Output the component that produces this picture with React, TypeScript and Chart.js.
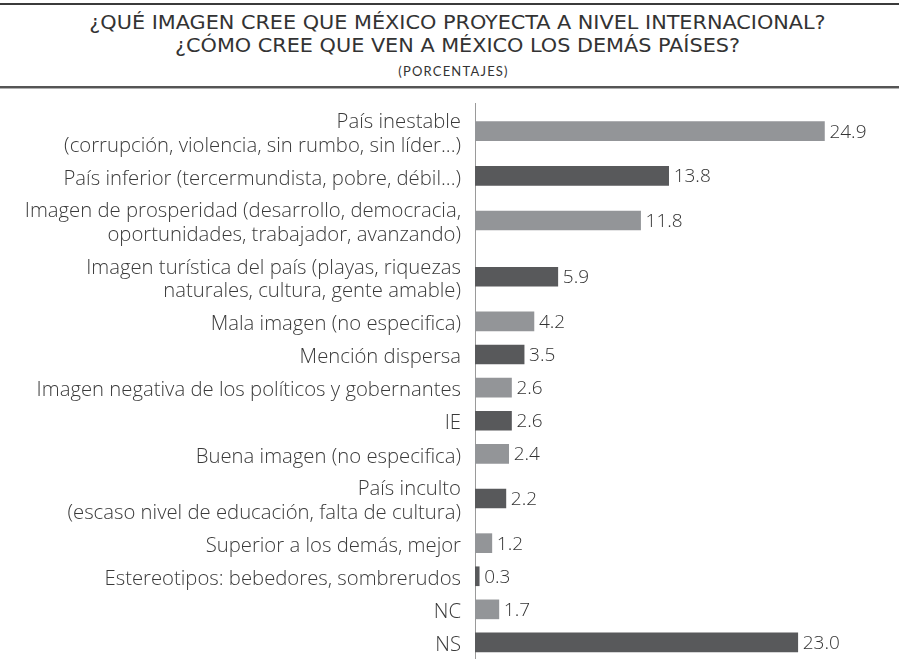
import React, { useEffect, useRef } from 'react';
import { Chart, registerables, CategoryScale } from 'chart.js';

Chart.register(...registerables);

// ---------- data ----------
const categories: string[][] = [
  ['País inestable', '(corrupción, violencia, sin rumbo, sin líder...)'],
  ['País inferior (tercermundista, pobre, débil...)'],
  ['Imagen de prosperidad (desarrollo, democracia,', 'oportunidades, trabajador, avanzando)'],
  ['Imagen turística del país (playas, riquezas', 'naturales, cultura, gente amable)'],
  ['Mala imagen (no especifica)'],
  ['Mención dispersa'],
  ['Imagen negativa de los políticos y gobernantes'],
  ['IE'],
  ['Buena imagen (no especifica)'],
  ['País inculto', '(escaso nivel de educación, falta de cultura)'],
  ['Superior a los demás, mejor'],
  ['Estereotipos: bebedores, sombrerudos'],
  ['NC'],
  ['NS'],
];
const values: number[] = [24.9, 13.8, 11.8, 5.9, 4.2, 3.5, 2.6, 2.6, 2.4, 2.2, 1.2, 0.3, 1.7, 23.0];
const barColors: string[] = ['#939598', '#58595b'];

const titleLines: string[] = [
  '¿QUÉ IMAGEN CREE QUE MÉXICO PROYECTA A NIVEL INTERNACIONAL?',
  '¿CÓMO CREE QUE VEN A MÉXICO LOS DEMÁS PAÍSES?',
];
const subtitle = '(PORCENTAJES)';

// Category scale whose bands grow with the number of label lines
const EXTRA_PER_LINE = 0.7;
class WeightedCategoryScale extends CategoryScale {
  static id = 'weightedCategory';
  static defaults = CategoryScale.defaults;
  getPixelForValue(value: any) {
    let idx = typeof value === 'number' ? value : (this as any).parse(value);
    if (idx === null || idx === undefined || isNaN(idx)) return NaN;
    const labels = (this as any).getLabels() as any[];
    const w = labels.map((l) => (Array.isArray(l) ? 1 + EXTRA_PER_LINE * (l.length - 1) : 1));
    const total = w.reduce((a, b) => a + b, 0) || 1;
    idx = Math.max(0, Math.min(w.length - 1, Math.round(idx)));
    let cum = 0;
    for (let i = 0; i < idx; i++) cum += w[i];
    const dec = (cum + w[idx] / 2) / total;
    return (this as any).top + dec * ((this as any).bottom - (this as any).top);
  }
}
Chart.register(WeightedCategoryScale as any);

const LABEL_FONT = "'Open Sans', sans-serif";

const valueLabelPlugin = {
  id: 'valueLabels',
  afterDatasetsDraw(chart: any) {
    const ctx = chart.ctx;
    const meta = chart.getDatasetMeta(0);
    ctx.save();
    ctx.font = `300 19px ${LABEL_FONT}`;
    ctx.fillStyle = '#333333';
    ctx.textAlign = 'left';
    ctx.textBaseline = 'middle';
    meta.data.forEach((bar: any, i: number) => {
      const v = chart.data.datasets[0].data[i] as number;
      ctx.fillText(v.toFixed(1), bar.x + 5, bar.y + 1);
    });
    ctx.restore();
  },
};

export default function App() {
  const canvasRef = useRef<HTMLCanvasElement>(null);

  useEffect(() => {
    document.body.style.margin = '0';
    const canvas = canvasRef.current;
    if (!canvas) return;
    const chart = new Chart(canvas, {
      type: 'bar',
      data: {
        labels: categories,
        datasets: [
          {
            data: values,
            backgroundColor: values.map((_, i) => barColors[i % 2]),
            borderWidth: 0,
            barThickness: 19,
            minBarLength: 3,
          },
        ],
      },
      options: {
        indexAxis: 'y',
        responsive: false,
        animation: false,
        layout: { padding: { top: 13, right: 3, bottom: 0, left: 0 } },
        plugins: {
          legend: { display: false },
          tooltip: { enabled: false },
          title: { display: false },
        },
        scales: {
          x: {
            type: 'linear',
            display: false,
            min: 0,
            max: 30,
          },
          y: {
            type: 'weightedCategory' as any,
            grid: { display: false, drawTicks: false },
            border: { display: true, color: '#9a9a9a', width: 1 },
            ticks: {
              autoSkip: false,
              padding: 14,
              labelOffset: 3,
              color: '#3a3a3a',
              font: { family: LABEL_FONT, size: 20.3, weight: '300' as any, lineHeight: 1.17 },
            },
            afterFit: (scale: any) => {
              scale.width = 475;
              scale.paddingTop = 0;
              scale.paddingBottom = 0;
            },
          } as any,
        },
      },
      plugins: [valueLabelPlugin],
    });
    return () => chart.destroy();
  }, []);

  const condensed = "'Liberation Sans Narrow', 'DejaVu Sans Condensed', sans-serif";

  return (
    <div style={{ position: 'relative', width: 899, height: 659, background: '#ffffff', overflow: 'hidden' }}>
      <div style={{ position: 'absolute', left: 0, top: 3, width: 899, height: 2, background: '#3b3b3b' }} />
      <div
        style={{
          position: 'absolute',
          left: 8,
          top: 11,
          width: 899,
          textAlign: 'center',
          fontFamily: condensed,
          fontSize: 20,
          lineHeight: '22.5px',
          color: '#333333',
          transform: 'scaleX(1.155)',
          transformOrigin: '449.5px 0',
        }}
      >
        <div>{titleLines[0]}</div>
        <div>{titleLines[1]}</div>
      </div>
      <div
        style={{
          position: 'absolute',
          left: 4,
          top: 63,
          width: 899,
          textAlign: 'center',
          fontFamily: 'Lato, sans-serif',
          fontSize: 13,
          lineHeight: '16px',
          letterSpacing: '1.2px',
          color: '#333333',
        }}
      >
        {subtitle}
      </div>
      <div style={{ position: 'absolute', left: 0, top: 86, width: 899, height: 2, background: '#555555' }} />
      <div style={{ position: 'absolute', left: 0, top: 88, width: 899, height: 1, background: '#b0b0b0' }} />
      <div style={{ position: 'absolute', left: 0, top: 90 }}>
        <canvas ref={canvasRef} width={899} height={569} style={{ display: 'block' }} />
      </div>
    </div>
  );
}
